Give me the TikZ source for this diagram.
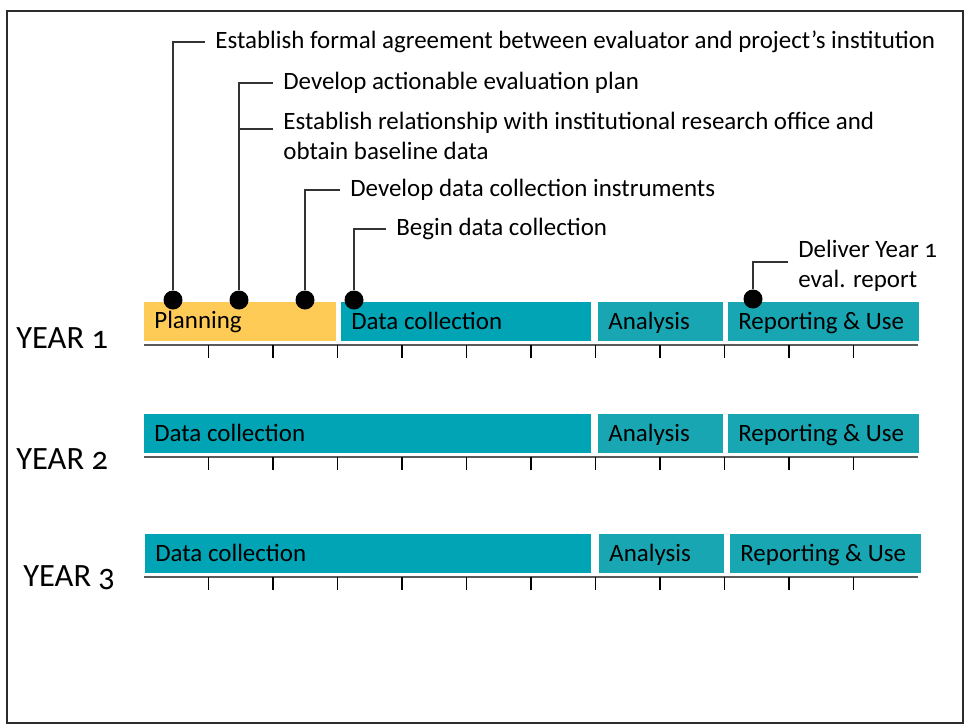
\documentclass[tikz,border=0pt]{standalone}
\usepackage{fontspec}
\setmainfont[Numbers=OldStyle]{Carlito}
\usepackage{xcolor}
\usetikzlibrary{positioning}
\definecolor{TL_PLAN}{HTML}{FECB57}
\definecolor{TL_DATA}{HTML}{00A4B4}
\definecolor{TL_ANAL}{HTML}{18A6B3}
\definecolor{TL_LINE}{HTML}{333333}
\definecolor{TL_FRAME}{HTML}{2B2B2B}
\tikzset{
  phase/.style={
    anchor=base west, inner xsep=0.2cm, inner ysep=0pt,
    font=\fontsize{14.2}{17}\selectfont, text=black},
  note/.style={
    anchor=west, align=left, inner xsep=0.2cm, inner ysep=0pt,
    font=\fontsize{14.2}{17}\selectfont, text=black},
  pin/.style={
    circle, fill=black, inner sep=0pt, minimum size=0.38cm},
  lead/.style={draw=TL_LINE, line width=0.7pt},
  yearlab/.style={
    anchor=west, inner sep=0pt,
    font=\fontsize{18.5}{20}\selectfont, text=black},
  axis/.style={draw=black!65, line width=1.3pt},
  tickmark/.style={draw=black, line width=0.8pt},
}

\begin{document}
\begin{tikzpicture}[x=0.02cm, y=-0.02cm]

  \useasboundingbox (0,0) rectangle (966,725);
  \draw[draw=TL_FRAME, line width=1.6pt] (7,11) rectangle (963,723);

  % year 1
  \fill[TL_PLAN] (144,302) rectangle (336,341);
  \fill[TL_DATA] (341,302) rectangle (591,341);
  \fill[TL_ANAL] (598,302) rectangle (723,341);
  \fill[TL_ANAL] (728,302) rectangle (919,341);
  \node[phase] (p1plan) at (144,328.5) {Planning};
  \node[phase] (p1data) at (341,329.5) {Data collection};
  \node[phase] (p1anal) at (598,329.5) {Analysis};
  \node[phase] (p1rep)  at (728,329.5) {Reporting \& Use};
  \node[yearlab] (yr1) at (16,338) {YEAR 1};

  % year 2
  \fill[TL_DATA] (144,414) rectangle (591,453);
  \fill[TL_ANAL] (598,414) rectangle (723,453);
  \fill[TL_ANAL] (728,414) rectangle (919,453);
  \node[phase] (p2data) at (144,441) {Data collection};
  \node[phase] (p2anal) at (598,441) {Analysis};
  \node[phase] (p2rep)  at (728,441) {Reporting \& Use};
  \node[yearlab] (yr2) at (16,459) {YEAR 2};

  % year 3
  \fill[TL_DATA] (145,534) rectangle (591,573);
  \fill[TL_ANAL] (599,534) rectangle (724,573);
  \fill[TL_ANAL] (730,534) rectangle (921,573);
  \node[phase] (p3data) at (145,561) {Data collection};
  \node[phase] (p3anal) at (599,561) {Analysis};
  \node[phase] (p3rep)  at (730,561) {Reporting \& Use};
  \node[yearlab] (yr3) at (23,578) {YEAR 3};

  % month axes
  \foreach \ay in {345,457,577} {
    \draw[axis] (144,\ay) -- (918,\ay);
    \foreach \k in {1,...,11}
      \draw[tickmark] ({144+64.5*\k},\ay) -- ++(0,13);
  }

  % milestones
  \node[pin] (d1) at (173,300) {};
  \node[pin] (d2) at (239,300) {};
  \node[pin] (d3) at (305,300) {};
  \node[pin] (d4) at (354,300) {};
  \node[pin] (d5) at (753,299) {};

  \node[note] (agree) at (205,42)
    {Establish formal agreement between evaluator and project’s institution};
  \node[note] (plan) at (273,83)
    {Develop actionable evaluation plan};
  \node[note] (rel) at (273,136)
    {Establish relationship with institutional research office and\\obtain baseline data};
  \node[note] (instr) at (340,190)
    {Develop data collection instruments};
  \node[note] (begin) at (386,229)
    {Begin data collection};
  \node[note] (deliver) at (788,266)
    {Deliver Year 1\\eval. report};

  \draw[lead] (d1) |- (agree);
  \draw[lead] (d2) |- (plan);
  \draw[lead] (d2) |- ([yshift=0.14cm]rel.west);
  \draw[lead] (d3) |- (instr);
  \draw[lead] (d4) |- (begin);
  \draw[lead] (d5) |- ([yshift=0.08cm]deliver.west);

\end{tikzpicture}
\end{document}
